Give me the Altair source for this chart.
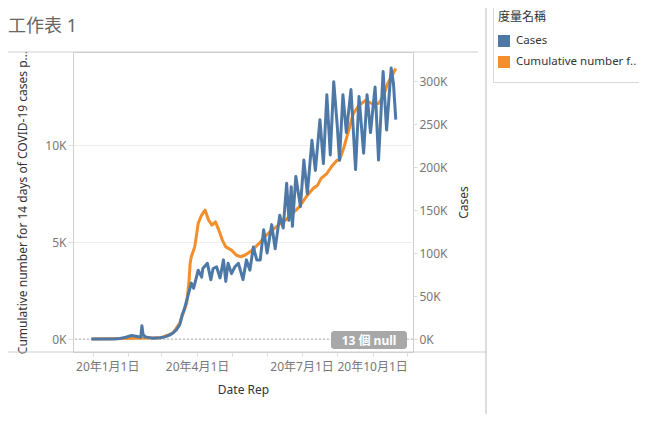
import altair as alt
import pandas as pd

# ---------------- data ----------------
CASES = "Cases"
CUM = "Cumulative number for 14 days of COVID-19 cases per 100000"

cases_dates = [
    "2019-12-31", "2020-01-10", "2020-01-20", "2020-01-25", "2020-01-30",
    "2020-02-04", "2020-02-09", "2020-02-12", "2020-02-13", "2020-02-14",
    "2020-02-16", "2020-02-22", "2020-02-29", "2020-03-04", "2020-03-08",
    "2020-03-11", "2020-03-14", "2020-03-17", "2020-03-19", "2020-03-21",
    "2020-03-24", "2020-03-27", "2020-03-29", "2020-04-02", "2020-04-05",
    "2020-04-06", "2020-04-10", "2020-04-13", "2020-04-15", "2020-04-18",
    "2020-04-21", "2020-04-24", "2020-04-26", "2020-04-28", "2020-05-01",
    "2020-05-04", "2020-05-07", "2020-05-11", "2020-05-14", "2020-05-17",
    "2020-05-20", "2020-05-23", "2020-05-26", "2020-05-29", "2020-06-01",
    "2020-06-05", "2020-06-08", "2020-06-12", "2020-06-15", "2020-06-18",
    "2020-06-20", "2020-06-22", "2020-06-23", "2020-06-26", "2020-06-30",
    "2020-07-03", "2020-07-06", "2020-07-10", "2020-07-13", "2020-07-17",
    "2020-07-20", "2020-07-23", "2020-07-26", "2020-07-29", "2020-08-01",
    "2020-08-03", "2020-08-06", "2020-08-09", "2020-08-13", "2020-08-17",
    "2020-08-20", "2020-08-24", "2020-08-27", "2020-08-30", "2020-09-03",
    "2020-09-06", "2020-09-10", "2020-09-13", "2020-09-17", "2020-09-19",
    "2020-09-21",
]
cases_values = [
    0, 0, 100, 700, 2000,
    4000, 3000, 2000, 15500, 5000,
    2500, 1000, 1500, 2500, 4500,
    7000, 10500, 17000, 28000, 35000,
    50000, 65000, 59000, 80000, 72000,
    82000, 88000, 69000, 82000, 84000,
    71000, 92000, 67000, 88000, 76000,
    84000, 88000, 69000, 92000, 80000,
    107000, 92000, 92000, 127000, 100000,
    133000, 105000, 144000, 129000, 181000,
    138000, 177000, 131000, 189000, 154000,
    208000, 169000, 231000, 196000, 255000,
    204000, 284000, 214000, 299000, 249000,
    208000, 284000, 240000, 290000, 197000,
    282000, 216000, 284000, 240000, 293000,
    208000, 311000, 243000, 315000, 297000,
    255000,
]

cum_dates = [
    "2019-12-31", "2020-01-25", "2020-02-29", "2020-03-11", "2020-03-17",
    "2020-03-23", "2020-03-25", "2020-03-26", "2020-03-27", "2020-03-30",
    "2020-04-02", "2020-04-05", "2020-04-08", "2020-04-11", "2020-04-14",
    "2020-04-17", "2020-04-20", "2020-04-23", "2020-04-26", "2020-05-01",
    "2020-05-05", "2020-05-09", "2020-05-13", "2020-05-19", "2020-05-25",
    "2020-05-30", "2020-06-05", "2020-06-11", "2020-06-17", "2020-06-23",
    "2020-06-29", "2020-07-05", "2020-07-11", "2020-07-15", "2020-07-18",
    "2020-07-23", "2020-07-28", "2020-08-01", "2020-08-03", "2020-08-07",
    "2020-08-11", "2020-08-15", "2020-08-20", "2020-08-26", "2020-08-31",
    "2020-09-06", "2020-09-10", "2020-09-14", "2020-09-21",
]
cum_values = [
    0, 30, 60, 300, 820,
    1850, 3000, 3900, 4240, 4750,
    5960, 6390, 6650, 6130, 5870,
    6040, 5610, 5100, 4750, 4580,
    4330, 4240, 4330, 4580, 4930,
    5270, 5610, 5870, 6130, 6470,
    6810, 7330, 7760, 7930, 8280,
    8530, 8960, 9220, 9220, 9900,
    10760, 11620, 12050, 12310, 12140,
    12140, 12480, 13170, 13940,
]

month_ticks = [1, 2, 3, 4, 5, 6, 7, 8, 9, 10]
left_ticks = [0, 5000, 10000]
right_ticks = [0, 50000, 100000, 150000, 200000, 250000, 300000]
null_badge_text = ["13 個 null"]

cases_df = pd.DataFrame({"date": cases_dates, "value": cases_values, "measure": CASES})
cum_df = pd.DataFrame({"date": cum_dates, "value": cum_values, "measure": CUM})
one = pd.DataFrame({"label": null_badge_text})

FONT = "Noto Sans, Noto Sans CJK TC, sans-serif"
BLUE = "#4e79a7"
ORANGE = "#f28e2b"
FRAME = "#cfcfcf"

# ---------------- encodings ----------------
x_enc = alt.X(
    "date:T",
    title="Date Rep",
    scale=alt.Scale(
        type="utc",
        domain=[
            alt.DateTime(year=2019, month=12, date=15, utc=True),
            alt.DateTime(year=2020, month=10, date=6, utc=True),
        ],
    ),
    axis=alt.Axis(
        values=[alt.DateTime(year=2020, month=m, date=1, utc=True) for m in month_ticks],
        labelExpr="utcmonth(datum.value) % 3 == 0 ? utcFormat(datum.value, '%y年%-m月%-d日') : ''",
        labelFlush=40,
        labelOffset={"condition": {"test": "utcmonth(datum.value) == 0", "value": -17}, "value": 0},
        grid=False,
        domain=False,
        tickSize=4,
        tickColor="#dddddd",
        labelPadding=5,
        titlePadding=12,
        labelFontSize=12,
    ),
)

color_enc = alt.Color(
    "measure:N",
    scale=alt.Scale(domain=[CASES, CUM], range=[BLUE, ORANGE]),
    legend=alt.Legend(
        title="度量名稱",
        orient="none",
        legendX=420,
        legendY=-45,
        direction="vertical",
        symbolType="square",
        symbolSize=36,
        symbolStrokeWidth=6,
        symbolOpacity=1,
        labelFontSize=11.5,
        labelColor="#333333",
        labelOffset=6,
        labelExpr="length(datum.label) > 20 ? slice(datum.label, 0, 19) + '..' : datum.label",
        titleFontSize=12,
        titleFontWeight="normal",
        titleColor="#333333",
        titlePadding=11,
        rowPadding=-9,
        padding=5,
        strokeColor="#d8d8d8",
        labelFont=FONT,
        titleFont=FONT,
    ),
)

y_left = alt.Y(
    "value:Q",
    title="Cumulative number for 14 days of COVID-19 cases p...",
    scale=alt.Scale(domain=[-670, 14794], nice=False, zero=False),
    axis=alt.Axis(
        orient="left",
        values=left_ticks,
        labelExpr="datum.value / 1000 + 'K'",
        grid=True,
        gridColor="#ececec",
        domain=False,
        tickSize=5,
        tickColor="#dddddd",
        labelPadding=2,
        titleX=-51,
        titleY=150,
        titleAngle=270,
        titleAlign="center",
        titleBaseline="middle",
        titleLimit=400,
    ),
)

y_right = alt.Y(
    "value:Q",
    title="Cases",
    scale=alt.Scale(domain=[-15116, 333721], nice=False, zero=False),
    axis=alt.Axis(
        orient="right",
        values=right_ticks,
        labelExpr="datum.value / 1000 + 'K'",
        grid=False,
        domain=False,
        tickSize=4,
        tickColor="#dddddd",
        labelPadding=2,
        titleX=50,
        titleY=150,
        titleAngle=270,
        titleAlign="center",
        titleBaseline="middle",
    ),
)

# ---------------- layers ----------------
orange_line = alt.Chart(cum_df).mark_line(strokeWidth=3, strokeJoin="round").encode(
    x=x_enc, y=y_left, color=color_enc
)
zero_rule = alt.Chart(one).mark_rule(color="#b5b5b5", strokeDash=[2, 2], strokeWidth=1).encode(
    y=alt.datum(0)
)
left_layer = alt.layer(zero_rule, orange_line)

blue_line = alt.Chart(cases_df).mark_line(strokeWidth=3, strokeJoin="round").encode(
    x=x_enc, y=y_right, color=color_enc
)

# decorations (pane frame, title, null badge)
top_line = alt.Chart(one).mark_rule(color=FRAME).encode(
    x=alt.value(-65), x2=alt.value(405), y=alt.value(0)
)
bottom_line = alt.Chart(one).mark_rule(color=FRAME).encode(
    x=alt.value(-65), x2=alt.value(413), y=alt.value(300)
)
sheet_border = alt.Chart(one).mark_rule(color="#bdbdbd").encode(
    x=alt.value(413), y=alt.value(-60), y2=alt.value(370)
)
title_text = alt.Chart(one).mark_text(
    text="工作表 1", align="left", baseline="middle", fontSize=18, font=FONT, color="#666666"
).encode(x=alt.value(-65), y=alt.value(-25))
badge = alt.Chart(one).mark_rect(color="#a8a8a8", cornerRadius=3).encode(
    x=alt.value(258), x2=alt.value(334), y=alt.value(279), y2=alt.value(297)
)
badge_text = alt.Chart(one).mark_text(
    align="center", baseline="middle", fontSize=12, fontWeight="bold", font=FONT, color="white"
).encode(x=alt.value(296), y=alt.value(288.5), text="label:N")

chart = (
    alt.layer(left_layer, blue_line, top_line, bottom_line, sheet_border, title_text, badge, badge_text)
    .resolve_scale(y="independent")
    .properties(
        width=340,
        height=300,
        autosize=alt.AutoSizeParams(type="none"),
        padding={"left": 65, "top": 44, "right": 226, "bottom": 62},
        background="white",
    )
    .configure_view(stroke=FRAME, strokeWidth=1)
    .configure_axis(
        labelFont=FONT,
        titleFont=FONT,
        labelColor="#777777",
        titleColor="#333333",
        labelFontSize=12,
        titleFontSize=12,
        titleFontWeight="normal",
    )
)

chart.save("out.html", embed_options={"renderer": "svg", "actions": False})
